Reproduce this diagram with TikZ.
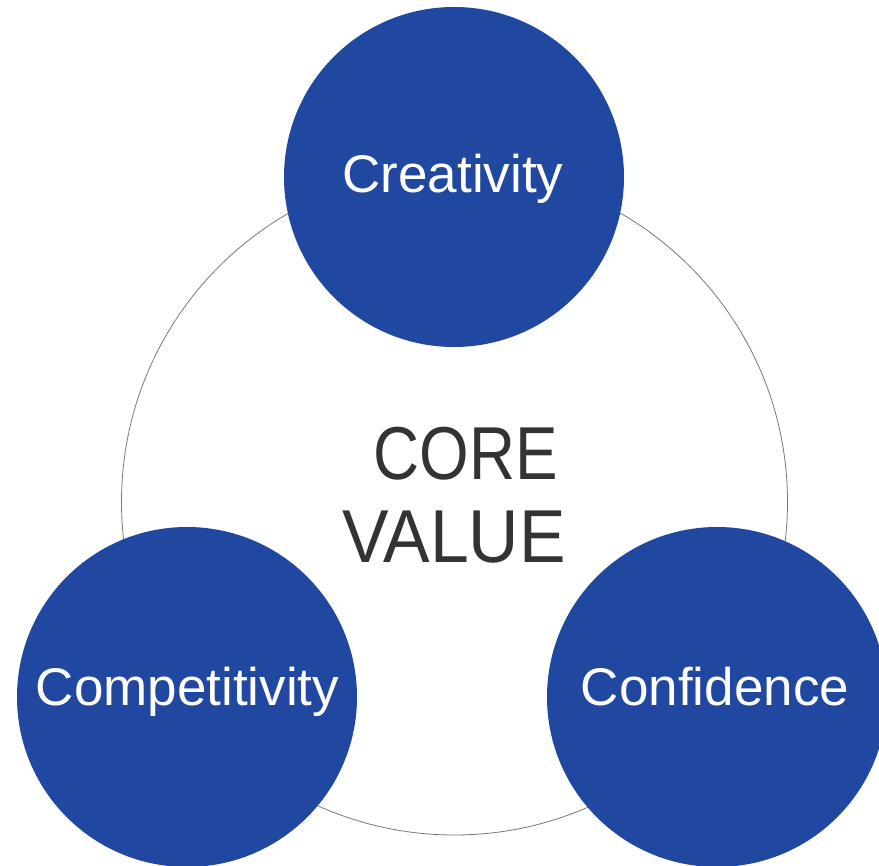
\documentclass[tikz,border=0pt]{standalone}
\usepackage{fontspec}
\setmainfont{Liberation Sans}
\definecolor{coreblue}{RGB}{33,72,161}
\definecolor{coretext}{RGB}{51,51,51}
\definecolor{ringgray}{RGB}{120,120,120}
\begin{document}
\begin{tikzpicture}[x=1pt,y=-1pt,
  bluedot/.style={circle,fill=coreblue,inner sep=0pt,minimum size=340pt},
  dotlabel/.style={anchor=base,text=white,inner sep=0pt,font=\fontsize{53}{60}\selectfont},
  corelabel/.style={anchor=base,text=coretext,inner sep=0pt,font=\fontsize{75}{83}\selectfont}]
\useasboundingbox (0,0) rectangle (879,866);
\fill[white] (0,0) rectangle (879,866);
\node[circle,draw=ringgray,line width=0.8pt,inner sep=0pt,minimum size=666pt] (ring) at (454.5,502) {};
\node[bluedot] (top) at (454,177) {};
\node[bluedot] (left) at (187,697) {};
\node[bluedot] (right) at (717,697) {};
\node[dotlabel] (ttop) at (453,193) {Creativity};
\node[dotlabel] (tleft) at (187.5,705) {Competitivity};
\node[dotlabel] (tright) at (715,705) {Confidence};
\node[corelabel,xscale=0.85] (core) at (466,480) {CORE};
\node[corelabel,xscale=0.93] (value) at (454,563) {VALUE};
\end{tikzpicture}
\end{document}
